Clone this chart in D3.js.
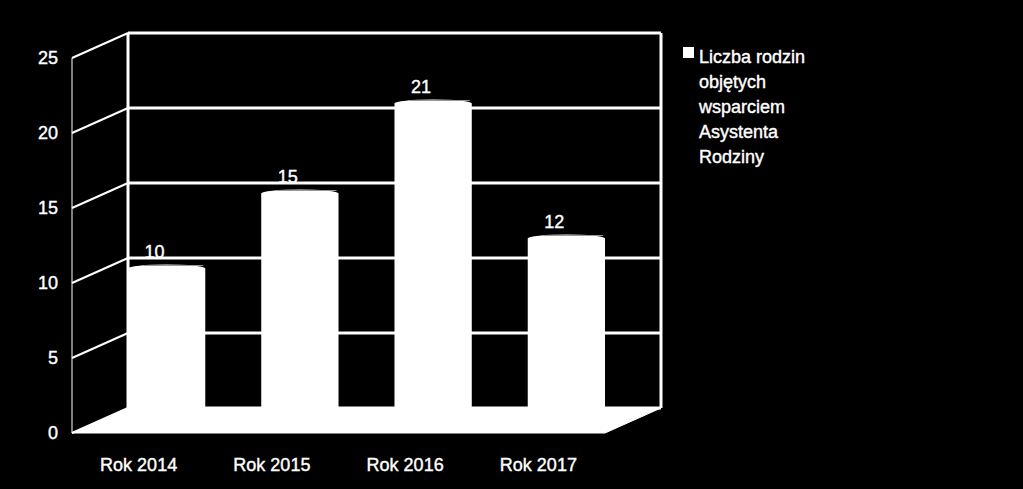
<!DOCTYPE html>
<html><head><meta charset="utf-8">
<script src="https://cdn.jsdelivr.net/npm/d3@7"></script>
<style>body{margin:0;background:#000}text{font-family:"Liberation Sans",Arial,sans-serif;fill:#fff;stroke:#fff;stroke-width:0.4px}</style>
</head><body>
<script>
var categories = ["Rok 2014", "Rok 2015", "Rok 2016", "Rok 2017"];
var values = [10, 15, 21, 12];
var ticks = [0, 5, 10, 15, 20, 25];
var legendLines = ["Liczba rodzin", "objętych", "wsparciem", "Asystenta", "Rodziny"];

var W = 1023, H = 489;
var depthX = 56, depthY = -25;
var svg = d3.select("body").append("svg").attr("width", W).attr("height", H);

// front plane scales
var x = d3.scaleBand().domain(categories).range([72, 605]).paddingInner(0.42).paddingOuter(0.21);
var y = d3.scaleLinear().domain([0, 25]).range([433, 58]);
var g = svg.append("g");

// back wall gridlines
ticks.forEach(function (t) {
  var yb = y(t) + depthY;
  g.append("line").attr("x1", 72 + depthX).attr("x2", 605 + depthX).attr("y1", yb).attr("y2", yb)
    .attr("stroke", "#fff").attr("stroke-width", 3);
  g.append("line").attr("x1", 72).attr("x2", 72 + depthX).attr("y1", y(t)).attr("y2", yb)
    .attr("stroke", "#fff").attr("stroke-width", 2);
  g.append("text").attr("x", 58).attr("y", y(t) + 6).attr("text-anchor", "end")
    .attr("font-size", 18).text(t);
});
// walls
g.append("line").attr("x1", 128).attr("x2", 128).attr("y1", y(25) + depthY).attr("y2", y(0) + depthY)
  .attr("stroke", "#fff").attr("stroke-width", 3);
g.append("line").attr("x1", 661).attr("x2", 661).attr("y1", y(25) + depthY).attr("y2", y(0) + depthY)
  .attr("stroke", "#fff").attr("stroke-width", 3);
g.append("line").attr("x1", 72).attr("x2", 72).attr("y1", y(25)).attr("y2", y(0))
  .attr("stroke", "#fff").attr("stroke-width", 1);
// floor
g.append("path").attr("fill", "#fff").attr("stroke", "#fff").attr("stroke-width", 1)
  .attr("d", "M72," + y(0) + "L605," + y(0) + "L" + (605 + depthX) + "," + (y(0) + depthY) +
    "L" + (72 + depthX) + "," + (y(0) + depthY) + "Z");

// bars (placed slightly behind mid depth)
var mx = depthX / 2, my = depthY / 2 - 2;
values.forEach(function (v, i) {
  var x0 = x(categories[i]) + mx, bw = x.bandwidth();
  var top = y(v) + my, bot = y(0) + my + 2;
  g.append("rect").attr("x", x0).attr("y", top).attr("width", bw).attr("height", bot - top).attr("fill", "#fff");
  g.append("ellipse").attr("cx", x0 + bw / 2).attr("cy", top).attr("rx", bw / 2).attr("ry", 4).attr("fill", "#fff");
  g.append("line").attr("x1", x0 + bw * 0.2).attr("x2", x0 + bw - 2).attr("y1", top - 3).attr("y2", top - 3)
    .attr("stroke", "#999").attr("stroke-width", 1);
  g.append("text").attr("x", x0 + bw / 2 - 12).attr("y", top - 11).attr("text-anchor", "middle")
    .attr("font-size", 18).text(v);
});

// category labels
categories.forEach(function (c) {
  g.append("text").attr("x", x(c) + x.bandwidth() / 2).attr("y", 471).attr("text-anchor", "middle")
    .attr("font-size", 18).text(c);
});

// legend
g.append("rect").attr("x", 683).attr("y", 47).attr("width", 11).attr("height", 11).attr("fill", "#fff");
legendLines.forEach(function (l, i) {
  g.append("text").attr("x", 699).attr("y", 63 + i * 25).attr("font-size", 18).text(l);
});
</script>
</body></html>
